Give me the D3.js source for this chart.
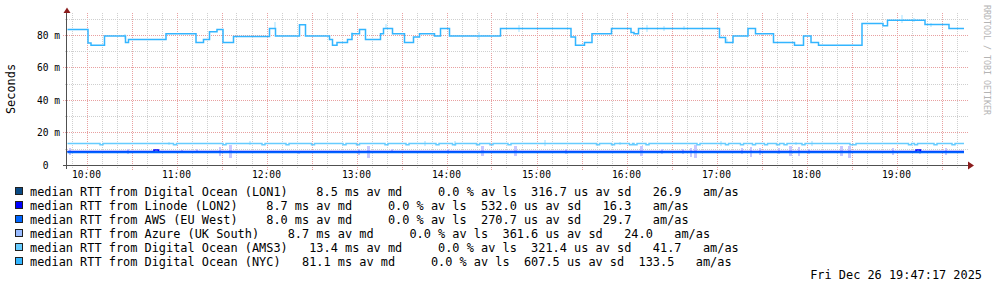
<!DOCTYPE html>
<html>
<head>
<meta charset="utf-8">
<script src="https://cdn.jsdelivr.net/npm/d3@7"></script>
<style>
  body { margin: 0; background: #fff; }
  svg { display: block; font-family: "DejaVu Sans Mono", monospace; }
  text { white-space: pre; }
</style>
</head>
<body>
<svg id="chart" width="997" height="289"></svg>
<script>
// time window of the graph
const startTime = "09:47:20";
const endTime = "19:47:20";
const lastSample = "19:45";

// median RTT (ms) as step change points [time, value]
const nycSteps = [
  ["09:47", 83.7], ["10:01", 75.4], ["10:03", 74.0], ["10:12", 79.6], ["10:26", 75.7],
  ["10:28", 77.5], ["10:53", 81.0], ["11:13", 75.7], ["11:18", 77.5], ["11:22", 82.2],
  ["11:27", 83.7], ["11:31", 75.7], ["11:38", 79.4], ["12:02", 84.3], ["12:06", 79.6],
  ["12:22", 86.5], ["12:26", 79.6], ["12:42", 77.5], ["12:44", 74.0], ["12:47", 75.7],
  ["12:54", 77.5], ["12:57", 81.0], ["13:02", 83.7], ["13:06", 77.5], ["13:16", 81.0],
  ["13:18", 84.3], ["13:24", 81.0], ["13:32", 75.7], ["13:38", 79.0], ["13:42", 81.0],
  ["13:52", 79.6], ["13:56", 84.3], ["14:02", 79.6], ["14:36", 84.3], ["15:23", 79.0],
  ["15:26", 74.0], ["15:32", 75.7], ["15:37", 81.0], ["15:50", 84.3], ["16:03", 81.8],
  ["16:05", 81.0], ["16:08", 84.3], ["17:02", 78.8], ["17:06", 75.7], ["17:11", 79.6],
  ["17:21", 84.3], ["17:26", 81.0], ["17:38", 75.7], ["17:52", 74.0], ["17:58", 79.6],
  ["18:03", 75.7], ["18:08", 74.0], ["18:37", 87.4], ["18:51", 85.9], ["18:54", 89.4],
  ["19:19", 86.8], ["19:35", 84.3]
];
const ams3Level = 13.5;
const ams3DipLevel = 12.8;
const ams3Dips = ["10:09", "10:58", "11:31", "11:57", "12:13", "12:30", "12:51", "13:00",
  "13:19", "13:33", "13:53", "14:04", "14:20", "14:29", "14:41", "15:40", "15:50", "16:02",
  "16:05", "16:13", "16:47", "17:06", "17:16", "17:24", "17:32", "17:40", "17:45", "17:57",
  "18:29", "18:31", "19:08", "19:12", "19:25", "19:37"];
const lon1Steps = [["09:47", 8.4]];
const lon2Steps = [["09:47", 8.6], ["10:45", 9.5], ["10:48", 8.6], ["19:13", 9.5], ["19:16", 8.6]];
const awsSteps = [["09:47", 8.1]];
const azureSteps = [["09:47", 8.6]];

// smoke (rtt spread) [time, low ms, high ms]
const lowSmoke = [
  ["09:48", 6.3, 10.5], ["10:27", 7.0, 10.0], ["11:03", 7.8, 9.8], ["11:13", 7.5, 10.0],
  ["11:28", 5.7, 11.4], ["11:35", 4.5, 12.7], ["12:21", 7.0, 9.0], ["13:01", 6.3, 10.0],
  ["13:07", 4.9, 11.9], ["13:23", 7.5, 10.0], ["14:00", 7.0, 10.0], ["14:23", 5.7, 11.9],
  ["14:45", 5.7, 11.9], ["15:19", 7.0, 10.0], ["16:09", 5.7, 11.9], ["16:23", 7.0, 10.0],
  ["16:37", 7.0, 10.0], ["16:42", 5.5, 11.0], ["16:45", 4.5, 12.5], ["17:16", 7.0, 10.5],
  ["17:22", 5.5, 11.5], ["17:28", 6.3, 10.5], ["17:41", 7.0, 10.5], ["17:48", 5.7, 11.9],
  ["17:54", 5.7, 11.4], ["18:01", 7.0, 10.0], ["18:22", 5.7, 11.9], ["18:28", 4.9, 11.9],
  ["18:57", 6.3, 10.5], ["19:15", 7.0, 10.0], ["19:32", 6.3, 10.5]
];
const ams3Smoke = [
  ["10:54", 12.7, 14.3], ["11:48", 12.5, 14.8], ["13:45", 12.0, 15.1], ["14:05", 12.0, 15.1],
  ["15:05", 11.7, 15.5], ["15:55", 12.7, 14.3], ["17:02", 12.0, 14.8], ["17:52", 12.7, 14.3],
  ["18:03", 12.0, 15.1]
];
const nycSmoke = [
  ["10:25", 78.0, 81.0], ["12:05", 84.3, 88.4], ["12:56", 79.0, 82.0], ["13:19", 84.0, 87.0],
  ["14:21", 77.0, 82.0], ["14:48", 82.0, 86.5], ["16:13", 82.2, 86.3], ["16:24", 83.0, 85.5],
  ["16:38", 83.5, 85.5], ["17:06", 75.7, 78.0], ["19:03", 87.7, 92.5], ["19:11", 88.0, 91.0],
  ["19:22", 85.0, 87.5]
];

// legend
const hosts = ["Digital Ocean (LON1)", "Linode (LON2)", "AWS (EU West)", "Azure (UK South)",
  "Digital Ocean (AMS3)", "Digital Ocean (NYC)"];
const hostColors = ["#0a4a84", "#0000ff", "#0066ff", "#99bbff", "#66ccff", "#33b5ff"];
const avgMedian = [8.5, 8.7, 8.0, 8.7, 13.4, 81.1];
const avgLoss = [0.0, 0.0, 0.0, 0.0, 0.0, 0.0];
const avgSd = [316.7, 532.0, 270.7, 361.6, 321.4, 607.5];
const amas = [26.9, 16.3, 29.7, 24.0, 41.7, 133.5];
const stamp = "Fri Dec 26 19:47:17 2025";

const yTicks = [0, 20, 40, 60, 80];

const parse = d3.timeParse("%H:%M:%S");
const t = (s) => parse(s.length === 5 ? s + ":00" : s);

const svg = d3.select("#chart");
const x = d3.scaleTime().domain([t(startTime), t(endTime)]).range([67.5, 967.5]);
const y = d3.scaleLinear().domain([0, 93.8]).range([165.5, 13]);

// grid
const minorX = d3.timeMinute.every(10).range(t(startTime), t(endTime));
const grid = svg.append("g").attr("shape-rendering", "crispEdges");
grid.selectAll(".vg").data(minorX).enter().append("line")
  .attr("x1", (d) => Math.round(x(d)) + 0.5).attr("x2", (d) => Math.round(x(d)) + 0.5)
  .attr("y1", 13).attr("y2", (d) => d.getMinutes() % 30 === 0 ? 170 : 168)
  .attr("stroke", (d) => d.getMinutes() % 30 === 0 ? "#e8a0a0" : "#cfcfcf")
  .attr("stroke-dasharray", "1,1");
const minorY = d3.range(10, 94, 10);
grid.selectAll(".hg").data(minorY).enter().append("line")
  .attr("x1", (d) => d % 20 === 0 ? 63 : 65).attr("x2", 968)
  .attr("y1", (d) => Math.round(y(d) - 0.5) + 0.5).attr("y2", (d) => Math.round(y(d) - 0.5) + 0.5)
  .attr("stroke", (d) => d % 20 === 0 ? "#e8a0a0" : "#cfcfcf")
  .attr("stroke-dasharray", "1,1");

// smoke
function smoke(data, color) {
  svg.append("g").attr("shape-rendering", "crispEdges")
    .selectAll("rect").data(data).enter().append("rect")
    .attr("x", (d) => Math.round(x(t(d[0]))))
    .attr("width", (d) => d[2] - d[1] > 6 ? 3 : 2)
    .attr("y", (d) => y(d[2]))
    .attr("height", (d) => y(d[1]) - y(d[2]))
    .attr("fill", color);
}
smoke(lowSmoke, "#c8c8ff");
smoke(ams3Smoke, "#cdeeff");
smoke(nycSmoke, "#d2f0ff");

// lines
const ams3Steps = [["09:47", ams3Level]];
ams3Dips.forEach((d) => {
  const s = t(d);
  ams3Steps.push([d, ams3DipLevel]);
  ams3Steps.push([d3.timeFormat("%H:%M")(d3.timeMinute.offset(s, 2)), ams3Level]);
});

const line = d3.line()
  .x((d) => x(d[0]))
  .y((d) => y(d[1]))
  .curve(d3.curveStepAfter);

function drawSteps(steps, color, width) {
  const pts = steps.map((d) => [t(d[0]), d[1]]);
  pts[0][0] = t(startTime);
  pts.push([t(lastSample), steps[steps.length - 1][1]]);
  svg.append("path").datum(pts)
    .attr("fill", "none").attr("stroke", color).attr("stroke-width", width)
    .attr("d", line);
}
drawSteps(azureSteps, hostColors[3], 1);
drawSteps(lon1Steps, hostColors[0], 1);
drawSteps(lon2Steps, hostColors[1], 1.5);
drawSteps(awsSteps, hostColors[2], 2);
drawSteps(ams3Steps, hostColors[4], 1.5);
drawSteps(nycSteps, hostColors[5], 1.5);

// axes
const ax = svg.append("g").attr("shape-rendering", "crispEdges");
ax.append("line").attr("x1", 63).attr("x2", 969).attr("y1", 165.5).attr("y2", 165.5)
  .attr("stroke", "#505050");
ax.append("line").attr("x1", 66.5).attr("x2", 66.5).attr("y1", 12).attr("y2", 169)
  .attr("stroke", "#505050");
svg.append("path").attr("d", "M63.5,13 L70.5,13 L67,7.5 Z").attr("fill", "#8b1c1c");
svg.append("path").attr("d", "M968,161.5 L968,169.5 L974,165.5 Z").attr("fill", "#8b1c1c");

// tick labels
const hours = d3.timeHour.every(1).range(t(startTime), t(endTime));
svg.append("g").selectAll("text").data(hours).enter().append("text")
  .attr("x", (d) => x(d)).attr("y", 178).attr("text-anchor", "middle")
  .attr("font-size", "9.6px").attr("fill", "#000")
  .text(d3.timeFormat("%H:%M"));
svg.append("g").selectAll("text").data(yTicks).enter().append("text")
  .attr("x", 60).attr("y", (d) => y(d) + 3.5).attr("text-anchor", "end")
  .attr("font-size", "9.6px").attr("fill", "#000")
  .text((d) => d === 0 ? "0  " : `${d} m`);

svg.append("text")
  .attr("transform", "translate(15,89) rotate(-90)")
  .attr("text-anchor", "middle").attr("font-size", "11.9px").attr("fill", "#000")
  .text("Seconds");

svg.append("text")
  .attr("transform", "translate(984,5) rotate(90)")
  .attr("font-size", "8.3px").attr("fill", "#b4b4b4")
  .text("RRDTOOL / TOBI OETIKER");

// legend
const pad = (s, n) => s.padStart(n, " ");
const legend = svg.append("g");
hosts.forEach((h, i) => {
  const cy = 191 + i * 14;
  legend.append("rect")
    .attr("x", 15.5).attr("y", cy - 3.5).attr("width", 7).attr("height", 7)
    .attr("fill", hostColors[i]).attr("stroke", "#202020").attr("shape-rendering", "crispEdges");
  const label = `median RTT from ${h}  ${pad(avgMedian[i].toFixed(1), 5)} ms av md   ` +
    `${pad(avgLoss[i].toFixed(1), 5)} % av ls  ${pad(avgSd[i].toFixed(1), 5)} us av sd ` +
    `${pad(amas[i].toFixed(1), 6)}   am/as`;
  legend.append("text")
    .attr("x", 30).attr("y", cy + 4.5)
    .attr("font-size", "11.9px").attr("fill", "#000")
    .text(label);
});
svg.append("text")
  .attr("x", 982).attr("y", 279).attr("text-anchor", "end")
  .attr("font-size", "11.9px").attr("fill", "#000")
  .text(stamp);
</script>
</body>
</html>
